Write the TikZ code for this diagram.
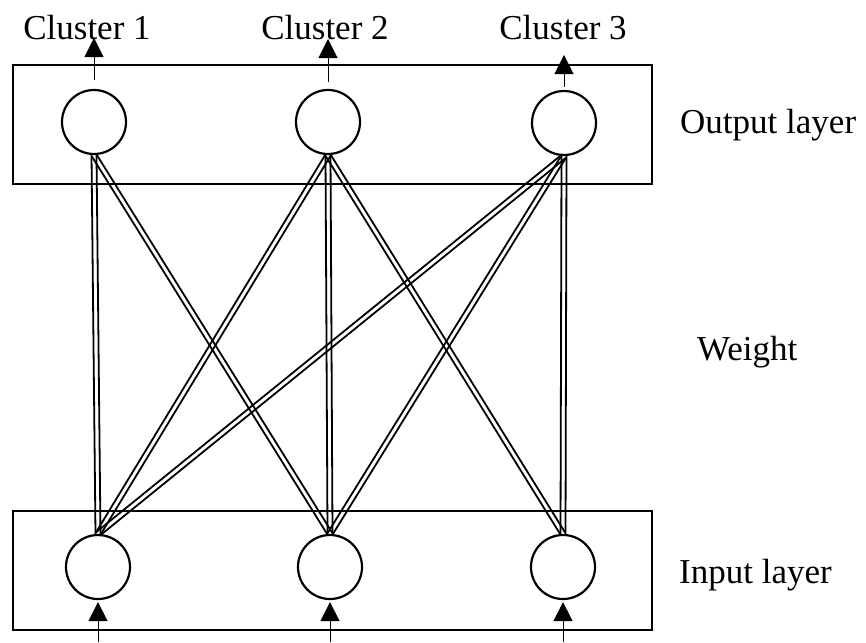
\documentclass[tikz,border=0pt]{standalone}
\usepackage{fontspec}
\setmainfont{Liberation Serif}
\usetikzlibrary{calc,arrows.meta}
% a connector drawn as two parallel thin strokes (an outlined band)
\newcommand\dwire[2]{%
  \draw[wire] ($(#1.south)!2.5pt!90:(#2.north)$) -- ($(#2.north)!2.5pt!-90:(#1.south)$);
  \draw[wire] ($(#1.south)!2.5pt!-90:(#2.north)$) -- ($(#2.north)!2.5pt!90:(#1.south)$);}
\begin{document}
\begin{tikzpicture}[x=1pt,y=-1pt,
  layerbox/.style={draw, line width=2.2pt, inner sep=0pt, minimum width=639pt, minimum height=119pt},
  neuron/.style={circle, draw, line width=2.2pt, minimum size=64pt, inner sep=0pt},
  lbl/.style={font=\fontsize{35}{42}\selectfont, inner sep=0pt},
  io/.style={-{Triangle[width=19pt,length=19pt]}, line width=1pt},
  wire/.style={line width=1.8pt}]
\useasboundingbox (0,0) rectangle (866,642);
\fill[white] (0,0) rectangle (866,642);

% layer frames
\node[layerbox] (outbox) at (332.5,124.5) {};
\node[layerbox] (inbox)  at (332.5,570.5) {};

% neurons
\node[neuron] (o1) at (94,122) {};
\node[neuron] (o2) at (328,122) {};
\node[neuron] (o3) at (564,123) {};
\node[neuron] (i1) at (98,567) {};
\node[neuron] (i2) at (330,567) {};
\node[neuron] (i3) at (563,567) {};

% weights
\dwire{o1}{i1}
\dwire{o1}{i2}
\dwire{o2}{i1}
\dwire{o2}{i2}
\dwire{o2}{i3}
\dwire{o3}{i1}
\dwire{o3}{i2}
\dwire{o3}{i3}

% outputs
\coordinate (t1) at (94,38);
\coordinate (t2) at (328,39);
\coordinate (t3) at (564,55);
\draw[io, shorten <=9pt] (o1.north) -- (t1);
\draw[io, shorten <=7pt] (o2.north) -- (t2);
\draw[io, shorten <=3pt] (o3.north) -- (t3);

% inputs
\coordinate (s1) at (98,642);
\coordinate (s2) at (330,642);
\coordinate (s3) at (563,642);
\draw[io, shorten >=2pt] (s1) -- (i1.south);
\draw[io, shorten >=2pt] (s2) -- (i2.south);
\draw[io, shorten >=2pt] (s3) -- (i3.south);

% labels
\node[lbl, anchor=base] (l1) at (87,40) {Cluster 1};
\node[lbl, anchor=base] (l2) at (325,40) {Cluster 2};
\node[lbl, anchor=base] (l3) at (563,40) {Cluster 3};
\node[lbl, anchor=base west] (lo) at (680,133) {Output layer};
\node[lbl, anchor=base west] (lw) at (697,360) {Weight};
\node[lbl, anchor=base west] (li) at (679,583) {Input layer};
\end{tikzpicture}
\end{document}
